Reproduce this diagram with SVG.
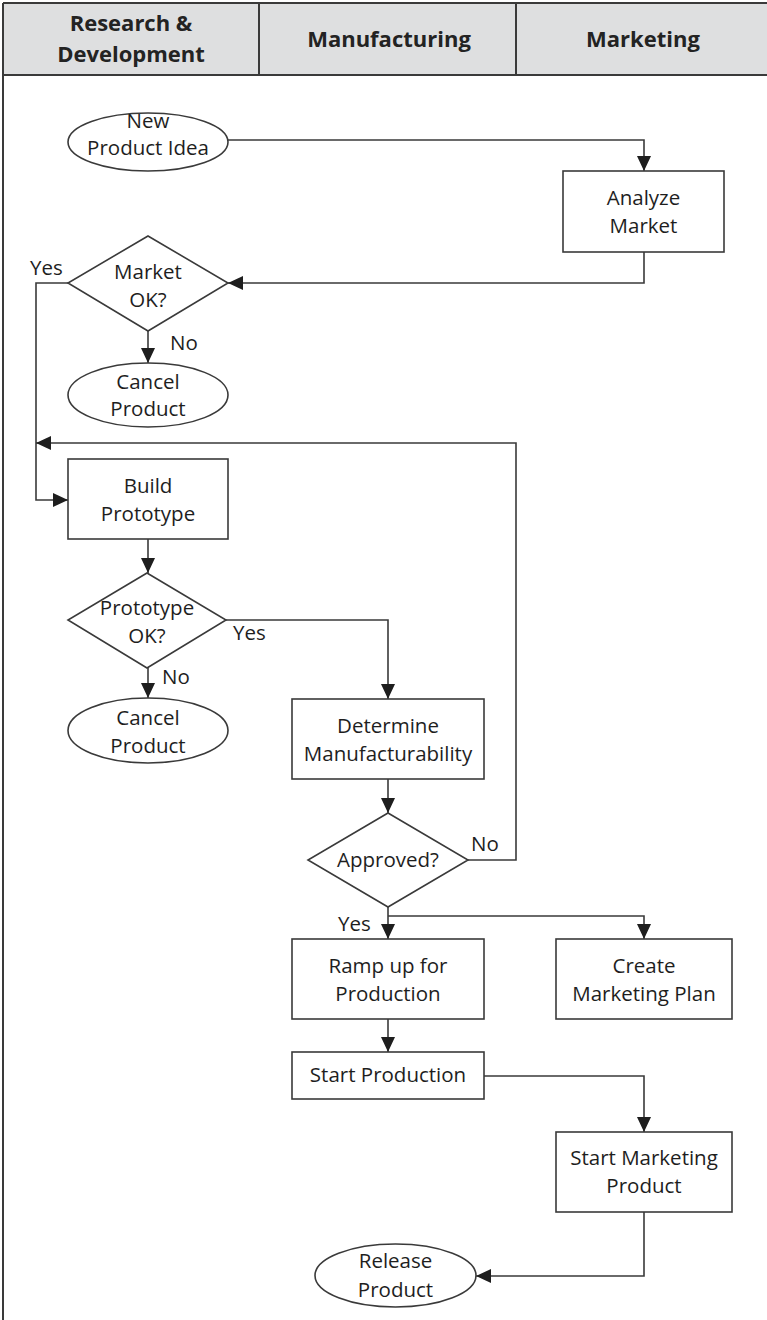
<svg xmlns="http://www.w3.org/2000/svg" width="767" height="1320" viewBox="0 0 767 1320">
<defs>
<style>
.hdr{fill:#dedfe0;stroke:none}
.frame{stroke:#3a3a3a;stroke-width:2;fill:none}
.shape{fill:#fff;stroke:#3a3a3a;stroke-width:1.6}
.conn{fill:none;stroke:#3a3a3a;stroke-width:1.6}
.t{font-family:"Open Sans","Liberation Sans",sans-serif;font-size:20.5px;fill:#1e1e1e;text-anchor:middle}
.lbl{font-family:"Open Sans","Liberation Sans",sans-serif;font-size:20.5px;fill:#1e1e1e}
.h{font-family:"Open Sans","Liberation Sans",sans-serif;font-size:22px;font-weight:bold;fill:#232323;text-anchor:middle}
</style>
<marker id="arr" markerUnits="userSpaceOnUse" markerWidth="16" markerHeight="14" refX="15" refY="7" orient="auto">
<path d="M0,0 L15,7 L0,14 Z" fill="#1e1e1e"/>
</marker>
</defs>
<rect x="0" y="0" width="767" height="1320" fill="#fff"/>
<g id="header">
<rect class="hdr" x="3" y="3" width="764" height="72"/>
<line class="frame" x1="3" y1="3" x2="767" y2="3"/>
<line class="frame" x1="3" y1="75" x2="767" y2="75"/>
<line class="frame" x1="3" y1="3" x2="3" y2="1320"/>
<line class="frame" x1="259" y1="3" x2="259" y2="75"/>
<line class="frame" x1="516" y1="3" x2="516" y2="75"/>
<text class="h" x="131" y="31">Research &amp;</text>
<text class="h" x="131" y="62">Development</text>
<text class="h" x="389" y="47">Manufacturing</text>
<text class="h" x="643" y="47">Marketing</text>
</g>
<g id="connectors">
<polyline class="conn" points="228,140 644,140 644,171" marker-end="url(#arr)"/>
<polyline class="conn" points="644,252 644,283 228,283" marker-end="url(#arr)"/>
<polyline class="conn" points="148,331 148,363" marker-end="url(#arr)"/>
<polyline class="conn" points="68,283 36,283 36,500 68,500" marker-end="url(#arr)"/>
<polyline class="conn" points="468,860 516,860 516,443 36,443" marker-end="url(#arr)"/>
<polyline class="conn" points="148,539 148,573" marker-end="url(#arr)"/>
<polyline class="conn" points="226,620 388,620 388,699" marker-end="url(#arr)"/>
<polyline class="conn" points="148,668 148,698" marker-end="url(#arr)"/>
<polyline class="conn" points="388,779 388,813" marker-end="url(#arr)"/>
<polyline class="conn" points="388,907 388,939" marker-end="url(#arr)"/>
<polyline class="conn" points="388,916 644,916 644,939" marker-end="url(#arr)"/>
<polyline class="conn" points="388,1019 388,1052" marker-end="url(#arr)"/>
<polyline class="conn" points="484,1076 644,1076 644,1132" marker-end="url(#arr)"/>
<polyline class="conn" points="644,1212 644,1276 476,1276" marker-end="url(#arr)"/>
<text class="lbl" x="30" y="275">Yes</text>
<text class="lbl" x="170" y="350">No</text>
<text class="lbl" x="233" y="640">Yes</text>
<text class="lbl" x="162" y="684">No</text>
<text class="lbl" x="471" y="851">No</text>
<text class="lbl" x="338" y="931">Yes</text>
</g>
<g id="new-product-idea">
<ellipse class="shape" cx="148" cy="142" rx="80" ry="29"/>
<text class="t" x="148" y="128">New</text>
<text class="t" x="148" y="155">Product Idea</text>
</g>
<g id="analyze-market">
<rect class="shape" x="563" y="171" width="161" height="81"/>
<text class="t" x="643.5" y="205">Analyze</text>
<text class="t" x="643.5" y="233">Market</text>
</g>
<g id="market-ok">
<polygon class="shape" points="148,236 228,283 148,331 68,283"/>
<text class="t" x="148" y="279">Market</text>
<text class="t" x="148" y="307">OK?</text>
</g>
<g id="cancel-product-1">
<ellipse class="shape" cx="148" cy="395" rx="80" ry="32"/>
<text class="t" x="148" y="389">Cancel</text>
<text class="t" x="148" y="416">Product</text>
</g>
<g id="build-prototype">
<rect class="shape" x="68" y="459" width="160" height="80"/>
<text class="t" x="148" y="493">Build</text>
<text class="t" x="148" y="521">Prototype</text>
</g>
<g id="prototype-ok">
<polygon class="shape" points="147,573 226,620 147,668 68,620"/>
<text class="t" x="147" y="615">Prototype</text>
<text class="t" x="147" y="643">OK?</text>
</g>
<g id="cancel-product-2">
<ellipse class="shape" cx="148" cy="730.5" rx="80" ry="32.5"/>
<text class="t" x="148" y="725">Cancel</text>
<text class="t" x="148" y="753">Product</text>
</g>
<g id="determine-manufacturability">
<rect class="shape" x="292" y="699" width="192" height="80"/>
<text class="t" x="388" y="733">Determine</text>
<text class="t" x="388" y="761">Manufacturability</text>
</g>
<g id="approved">
<polygon class="shape" points="388,813 468,860 388,907 308,860"/>
<text class="t" x="388" y="867">Approved?</text>
</g>
<g id="ramp-up">
<rect class="shape" x="292" y="939" width="192" height="80"/>
<text class="t" x="388" y="973">Ramp up for</text>
<text class="t" x="388" y="1001">Production</text>
</g>
<g id="create-marketing-plan">
<rect class="shape" x="556" y="939" width="176" height="80"/>
<text class="t" x="644" y="973">Create</text>
<text class="t" x="644" y="1001">Marketing Plan</text>
</g>
<g id="start-production">
<rect class="shape" x="292" y="1052" width="192" height="47"/>
<text class="t" x="388" y="1082">Start Production</text>
</g>
<g id="start-marketing-product">
<rect class="shape" x="556" y="1132" width="176" height="80"/>
<text class="t" x="644" y="1165">Start Marketing</text>
<text class="t" x="644" y="1193">Product</text>
</g>
<g id="release-product">
<ellipse class="shape" cx="395.5" cy="1275.5" rx="80.5" ry="31.5"/>
<text class="t" x="395.5" y="1268">Release</text>
<text class="t" x="395.5" y="1297">Product</text>
</g>
</svg>
